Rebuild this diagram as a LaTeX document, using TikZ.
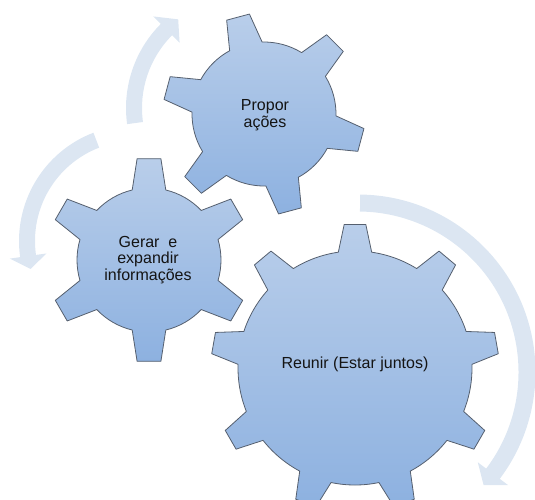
\documentclass[tikz,border=0pt]{standalone}
\usepackage{fontspec}
\setmainfont{Liberation Sans}
\definecolor{gtop}{RGB}{185,206,234}
\definecolor{gbot}{RGB}{141,177,224}
\definecolor{gline}{RGB}{85,95,110}
\definecolor{arrowfill}{RGB}{220,230,242}
\definecolor{gtextcol}{RGB}{20,20,20}
\tikzset{
  gearbody/.style={top color=gtop, bottom color=gbot, draw=gline, line width=0.8pt, line join=round},
  arrowbody/.style={fill=arrowfill, draw=none},
  gtext/.style={font=\fontsize{16}{16.7}\selectfont, align=center, text=gtextcol, inner sep=0pt}
}
% cx cy n r R basehalf tiphalf offset
\newcommand{\gearshape}[8]{%
\begin{scope}[shift={(#1,-#2)}]
\pgfmathsetmacro\gstep{360/#3}
\draw[gearbody] ({#8-#6}:#4)
 \foreach \k [evaluate=\k as \a using #8+(\k-1)*\gstep] in {1,...,#3} {
   -- ({\a-#7}:#5) -- ({\a+#7}:#5) -- ({\a+#6}:#4)
   arc[start angle={\a+#6}, end angle={\a+\gstep-#6}, radius=#4]
 } -- cycle;
\end{scope}}
% cx cy r w start headbase tip headhalf
\newcommand{\circarrow}[8]{%
\begin{scope}[shift={(#1,-#2)}]
\fill[arrowbody] (#5:{#3+#4}) arc[start angle=#5, end angle=#6, radius={#3+#4}]
  -- (#6:{#3+#8}) -- (#7:#3) -- (#6:{#3-#8}) -- (#6:{#3-#4})
  arc[start angle=#6, end angle=#5, radius={#3-#4}] -- cycle;
\end{scope}}
\begin{document}
\begin{tikzpicture}[x=1pt,y=1pt]
\useasboundingbox (0,0) rectangle (535,-499);
% circular arrows
\circarrow{245}{108}{111}{8}{187.8}{135}{127}{18.5}
\circarrow{135}{241}{108}{8}{111}{188}{195}{18.5}
\circarrow{358}{372}{169}{8.5}{89.3}{-37}{-42}{19}
% gears
\gearshape{355}{368}{9}{117}{144}{8.2}{4.3}{90}
\gearshape{149}{260}{6}{72}{102}{13.5}{6.7}{90}
\gearshape{264}{114}{6}{72}{101}{13.5}{6.7}{45}
% texts
\node[gtext] (reunir) at (355,-364) {Reunir (Estar juntos)};
\node[gtext] (gerar) at (148,-260) {Gerar~ e\\expandir\\informações};
\node[gtext] (propor) at (265,-115) {Propor\\ações};
\end{tikzpicture}
\end{document}
